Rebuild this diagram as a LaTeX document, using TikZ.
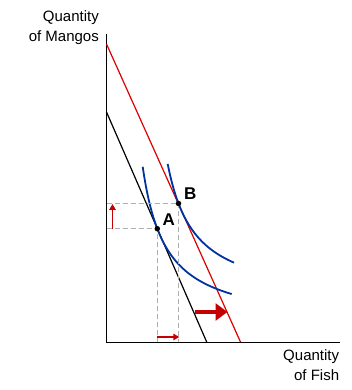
\documentclass[tikz,border=0pt]{standalone}
\usepackage{fontspec}
\setmainfont{Liberation Sans}
\usetikzlibrary{arrows.meta}
\definecolor{linered}{RGB}{220,0,0}
\definecolor{arrowred}{RGB}{196,0,0}
\definecolor{curveblue}{RGB}{0,51,160}
\definecolor{dashgray}{RGB}{175,175,175}
\begin{document}
\begin{tikzpicture}[
  x=1pt, y=1pt,
  axis/.style={draw=black, line width=0.9pt},
  budget/.style={line width=1.2pt},
  indiff/.style={curveblue, line width=1.8pt},
  guide/.style={dashgray, line width=0.9pt, dash pattern=on 5pt off 3pt},
  movearr/.style={arrowred, line width=1.6pt, -{Triangle[length=6pt,width=6.5pt]}},
  bigmovearr/.style={arrowred, line width=4pt, -{Triangle[length=12pt,width=17pt]}},
  bundle/.style={circle, fill=black, inner sep=0pt, minimum size=5.5pt},
  lab/.style={font=\fontsize{17}{20}\selectfont\bfseries, inner sep=0pt},
  axlab/.style={font=\fontsize{15}{20}\selectfont, align=right, inner sep=0pt}
]
  \useasboundingbox (-106.5,-48) rectangle (245.5,342);

  % axes
  \coordinate (O) at (0,0);
  \coordinate (ytop) at (0,308);
  \coordinate (xend) at (233.5,0);
  \draw[axis] (ytop) -- (O) -- (xend);
  \node[axlab, anchor=north east] (ylab) at (-7.5,332) {Quantity\\of Mangos};
  \node[axlab, anchor=north east] (xlab) at (232.8,-7.5) {Quantity\\of Fish};

  % budget lines
  \coordinate (b1top) at (0,230);
  \coordinate (b1bot) at (100.2,0);
  \coordinate (b2top) at (0,298);
  \coordinate (b2bot) at (134,0);
  \draw[budget, black] (b1top) -- (b1bot);
  \draw[budget, linered] (b2top) -- (b2bot);

  % indifference curves
  \draw[indiff] plot[domain=36.2:125.2, samples=60] (\x, {14.8+3721.7/(\x-13)});
  \draw[indiff] plot[domain=61.2:127.5, samples=60] (\x, {38.7+3804/(\x-33.9)});

  % optimal bundles
  \coordinate (A) at (50.8,113.3);
  \coordinate (B) at (72,138.5);
  \coordinate (Ay) at (0,113.3);
  \coordinate (By) at (0,138.5);
  \coordinate (Ax) at (50.8,0);
  \coordinate (Bx) at (72,0);
  \draw[guide] (Ay) -- (A) -- (Ax);
  \draw[guide] (By) -- (B) -- (Bx);
  \node[bundle] (ptA) at (A) {};
  \node[bundle] (ptB) at (B) {};
  \node[lab, anchor=base west] (labA) at (56,116.3) {A};
  \node[lab, anchor=base west] (labB) at (77.5,142.7) {B};

  % shifts
  \coordinate (up1) at (6,113.3);
  \coordinate (up2) at (6,138);
  \draw[movearr] (up1) -- (up2);
  \coordinate (rt1) at (50.8,5);
  \coordinate (rt2) at (72.8,5);
  \draw[movearr] (rt1) -- (rt2);
  \coordinate (big1) at (88.5,30);
  \coordinate (big2) at (121,30);
  \draw[bigmovearr] (big1) -- (big2);
\end{tikzpicture}
\end{document}
